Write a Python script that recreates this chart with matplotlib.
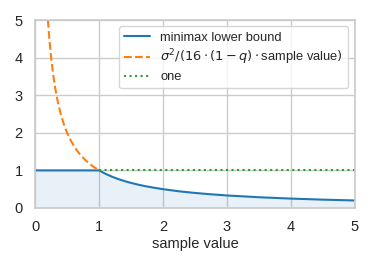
import matplotlib
matplotlib.use('Agg')
import matplotlib.pyplot as plt
import seaborn as sns

# values
x_bound = [0, 1.0, 1.1, 1.2, 1.3, 1.4, 1.5, 1.6, 1.7, 1.8, 2.0, 2.25, 2.5, 2.75,
           3.0, 3.5, 4.0, 4.5, 5.0]
y_bound = [1.0, 1.0, 0.909, 0.833, 0.769, 0.714, 0.667, 0.625, 0.588, 0.556, 0.5,
           0.444, 0.4, 0.364, 0.333, 0.286, 0.25, 0.222, 0.2]

x_ratio = [0.2, 0.21, 0.22, 0.235, 0.25, 0.27, 0.29, 0.31, 0.33, 0.36, 0.4, 0.45,
           0.5, 0.55, 0.6, 0.65, 0.7, 0.8, 0.9, 1.0]
y_ratio = [5.0, 4.762, 4.545, 4.255, 4.0, 3.704, 3.448, 3.226, 3.03, 2.778, 2.5,
           2.222, 2.0, 1.818, 1.667, 1.538, 1.429, 1.25, 1.111, 1.0]

x_one = [1, 5]
y_one = [1, 1]

sns.set_theme(style='whitegrid', palette='tab10')
plt.rcParams['font.family'] = ['Liberation Sans', 'DejaVu Sans']
plt.rcParams['mathtext.fontset'] = 'dejavusans'

fig, ax = plt.subplots(figsize=(3.74, 2.67), dpi=100)
fig.subplots_adjust(left=0.094, right=0.949, top=0.925, bottom=0.221)

ax.plot(x_bound, y_bound, color='#1f77b4', lw=1.5, label='minimax lower bound')
ax.plot(x_ratio, y_ratio, color='#ff7f0e', lw=1.5, ls='--',
        label=r'$\sigma^2/(16\cdot(1-q)\cdot$sample value$)$')
ax.plot(x_one, y_one, color='#2ca02c', lw=1.5, ls=':', label='one')
ax.fill_between(x_bound, y_bound, 0, color='#1f77b4', alpha=0.1, lw=0)

ax.set_xlim(0, 5)
ax.set_ylim(0, 5)
ax.set_xticks([0, 1, 2, 3, 4, 5])
ax.set_yticks([0, 1, 2, 3, 4, 5])
ax.tick_params(labelsize=10.5, pad=3)
ax.set_xlabel('sample value', fontsize=10.5, labelpad=2)
ax.legend(loc='upper right', fontsize=9.3, labelspacing=0.3)

fig.savefig('out.png', dpi=100)
